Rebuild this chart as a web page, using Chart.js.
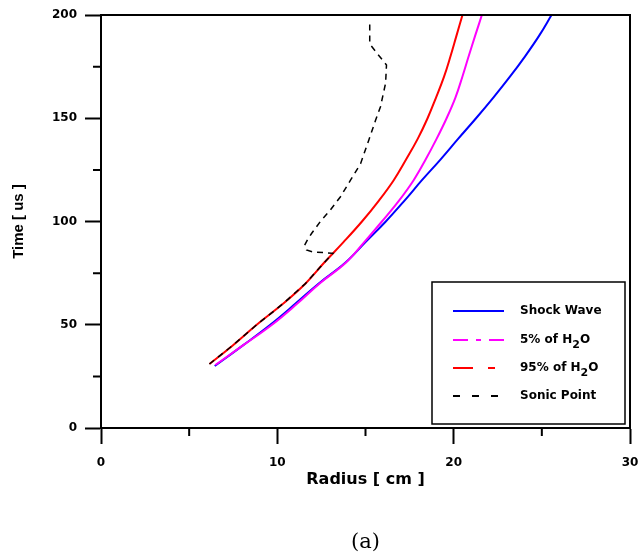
<!DOCTYPE html>
<html>
<head>
<meta charset="utf-8">
<script src="https://cdn.jsdelivr.net/npm/chart.js@4/dist/chart.umd.min.js"></script>
<style>
  html, body { margin: 0; padding: 0; background: #fff; }
  #wrap { width: 639px; height: 559px; position: relative; }
</style>
</head>
<body>
<div id="wrap"><canvas id="chart"></canvas></div>
<script>
// series (radius in cm, time in us)
const seriesNames = ['Shock Wave', '5% of H2O', '95% of H2O', 'Sonic Point'];

const shockTime   = [30, 40, 50, 60, 70, 80, 90, 100, 110, 120, 130, 140, 150, 160, 170, 180, 190, 200];
const shockRadius = [6.45, 8.05, 9.6, 11.0, 12.35, 13.85, 15.0, 16.15, 17.2, 18.2, 19.25, 20.25, 21.27, 22.25, 23.18, 24.05, 24.85, 25.55];

const h2o5Time   = [30.5, 40, 50, 60, 70, 80, 90, 100, 110, 120, 130, 140, 150, 160, 170, 180, 190, 200];
const h2o5Radius = [6.48, 8.05, 9.7, 11.1, 12.4, 13.88, 14.93, 15.93, 16.89, 17.73, 18.41, 19.03, 19.6, 20.1, 20.49, 20.85, 21.22, 21.6];

const h2o95Time   = [31, 40, 50, 60, 70, 80, 90, 100, 110, 120, 130, 140, 150, 160, 170, 180, 190, 200];
const h2o95Radius = [6.15, 7.47, 8.83, 10.3, 11.6, 12.65, 13.75, 14.8, 15.75, 16.6, 17.3, 17.96, 18.52, 19.0, 19.45, 19.82, 20.16, 20.5];

const sonicTime   = [31, 40, 50, 60, 70, 80, 84.6, 85.3, 86.2, 88.5, 91, 94.3, 100, 105.6, 112, 120, 128, 139.5, 149, 155.6, 167, 175.8, 181.4, 186, 196];
const sonicRadius = [6.15, 7.47, 8.83, 10.3, 11.6, 12.65, 13.15, 12.0, 11.65, 11.55, 11.7, 11.95, 12.44, 13.01, 13.58, 14.15, 14.72, 15.19, 15.57, 15.85, 16.14, 16.19, 15.66, 15.24, 15.24];

const xTicks = [0, 10, 20, 30];
const yTicks = [0, 50, 100, 150, 200];
const xMinor = [5, 15, 25];
const yMinor = [25, 75, 125, 175];

const colors = ['#0000ff', '#ff00ff', '#ff0000', '#000000'];
const legendDash = [[], [15, 8, 5, 8], [20, 15, 7, 15], [7, 12]];

function pairs(rs, ts) {
    return rs.map((r, i) => ({ x: r, y: ts[i] }));
}

const tickFont = { family: 'DejaVu Sans', size: 12, weight: 'bold' };

// frame, minor ticks and the boxed legend
const extras = {
    id: 'extras',
    afterDraw(chart) {
        const ctx = chart.ctx;
        const a = chart.chartArea;
        const xs = chart.scales.x, ys = chart.scales.y;
        ctx.save();
        ctx.strokeStyle = '#000';
        ctx.lineWidth = 2;
        ctx.beginPath();
        ctx.moveTo(a.left, a.top);
        ctx.lineTo(a.right, a.top);
        ctx.lineTo(a.right, a.bottom);
        xMinor.forEach(v => {
            const px = xs.getPixelForValue(v);
            ctx.moveTo(px, a.bottom);
            ctx.lineTo(px, a.bottom + 8);
        });
        yMinor.forEach(v => {
            const py = ys.getPixelForValue(v);
            ctx.moveTo(a.left, py);
            ctx.lineTo(a.left - 8, py);
        });
        ctx.stroke();

        // legend box
        const bw = 193, bh = 142;
        const bx = a.right - 5 - bw, by = a.bottom - 4 - bh;
        ctx.fillStyle = '#fff';
        ctx.fillRect(bx, by, bw, bh);
        ctx.lineWidth = 1.5;
        ctx.strokeRect(bx, by, bw, bh);

        const rowY = [29, 58, 86, 114];
        chart.data.datasets.forEach((ds, i) => {
            const y = by + rowY[i];
            ctx.strokeStyle = colors[i];
            ctx.lineWidth = 2;
            ctx.setLineDash(legendDash[i]);
            ctx.beginPath();
            ctx.moveTo(bx + 21, y);
            ctx.lineTo(bx + 72, y);
            ctx.stroke();
            ctx.setLineDash([]);

            ctx.fillStyle = '#000';
            ctx.textBaseline = 'middle';
            ctx.textAlign = 'left';
            let tx = bx + 88;
            const parts = ds.label.split(/(H2O)/);
            parts.forEach(p => {
                if (p === 'H2O') {
                    ctx.font = 'bold 12px "DejaVu Sans"';
                    ctx.fillText('H', tx, y);
                    tx += ctx.measureText('H').width;
                    ctx.font = 'bold 11px "DejaVu Sans"';
                    ctx.fillText('2', tx, y + 5);
                    tx += ctx.measureText('2').width;
                    ctx.font = 'bold 12px "DejaVu Sans"';
                    ctx.fillText('O', tx, y);
                    tx += ctx.measureText('O').width;
                } else if (p) {
                    ctx.font = 'bold 12px "DejaVu Sans"';
                    ctx.fillText(p, tx, y);
                    tx += ctx.measureText(p).width;
                }
            });
        });
        ctx.restore();
    }
};

const ctx = document.getElementById('chart').getContext('2d');

new Chart(ctx, {
    type: 'scatter',
    data: {
        datasets: [
            { label: seriesNames[0], data: pairs(shockRadius, shockTime), borderColor: colors[0], order: 3 },
            { label: seriesNames[1], data: pairs(h2o5Radius, h2o5Time), borderColor: colors[1], order: 1 },
            { label: seriesNames[2], data: pairs(h2o95Radius, h2o95Time), borderColor: colors[2], order: 2 },
            { label: seriesNames[3], data: pairs(sonicRadius, sonicTime), borderColor: colors[3], borderDash: [6, 5], borderWidth: 1.5, tension: 0, order: 0 }
        ]
    },
    options: {
        responsive: true,
        maintainAspectRatio: false,
        animation: false,
        showLine: true,
        elements: {
            point: { radius: 0, hoverRadius: 0 },
            line: { borderWidth: 2, tension: 0.4, fill: false }
        },
        layout: { padding: { left: 8, right: 9, top: 15, bottom: 0 } },
        scales: {
            x: {
                type: 'linear',
                min: 0,
                max: 30,
                afterBuildTicks: s => { s.ticks = xTicks.map(v => ({ value: v })); },
                afterFit: s => { s.height = 102.4; s.paddingLeft = 0; s.paddingRight = 0; },
                ticks: { color: '#000', font: tickFont, padding: 12, maxRotation: 0 },
                grid: { drawOnChartArea: false, tickLength: 16, tickWidth: 2, tickColor: '#000' },
                border: { color: '#000', width: 2 },
                title: {
                    display: true,
                    text: 'Radius [ cm ]',
                    color: '#000',
                    font: { family: 'DejaVu Sans', size: 16, weight: 'bold' },
                    padding: { top: 0, bottom: 40.8 }
                }
            },
            y: {
                type: 'linear',
                min: 0,
                max: 200,
                afterBuildTicks: s => { s.ticks = yTicks.map(v => ({ value: v })); },
                afterFit: s => { s.width = 93; s.paddingTop = 0; s.paddingBottom = 0; },
                ticks: { color: '#000', font: tickFont, padding: 8 },
                grid: { drawOnChartArea: false, tickLength: 16, tickWidth: 2, tickColor: '#000' },
                border: { color: '#000', width: 2 },
                title: {
                    display: true,
                    text: 'Time [ us ]',
                    color: '#000',
                    font: { family: 'Liberation Sans', size: 15, weight: 'bold' },
                    padding: { top: 2, bottom: 0 }
                }
            }
        },
        plugins: {
            legend: { display: false },
            tooltip: { enabled: false },
            title: {
                display: true,
                position: 'bottom',
                fullSize: false,
                text: '(a)',
                color: '#000',
                font: { family: 'DejaVu Serif', size: 21, weight: 'normal' },
                padding: { top: 0, bottom: 3.4 }
            }
        }
    },
    plugins: [extras]
});
</script>
</body>
</html>
